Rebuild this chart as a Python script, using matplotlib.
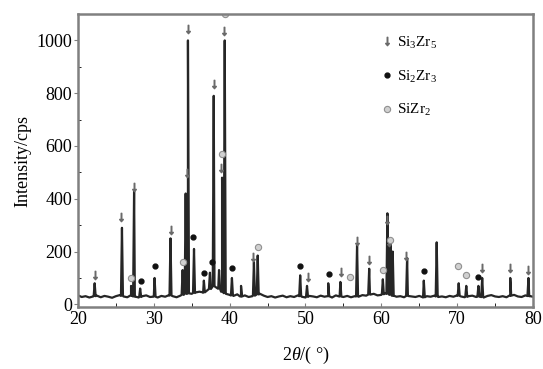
import numpy as np
import matplotlib
matplotlib.use('Agg')
import matplotlib.pyplot as plt

# baseline of the pattern, read every 0.5 deg from 20 to 80
base_start, base_step = 20.0, 0.5
baseline = [
    34, 28, 31, 26, 30, 33, 27, 32, 29, 25, 31, 35, 30, 27, 33, 29,   # 20.0 - 27.5
    26, 31, 34, 28, 30, 26, 32, 29, 35, 31, 27, 33, 38, 42, 40, 45,   # 28.0 - 35.5
    48, 44, 52, 60, 70, 62, 48, 40, 36, 32, 38, 30, 34, 28, 31, 36,   # 36.0 - 43.5
    40, 33, 28, 31, 26, 30, 33, 27, 31, 28, 34, 29, 26, 32, 30, 27,   # 44.0 - 51.5
    33, 29, 31, 26, 34, 30, 28, 32, 27, 31, 29, 35, 33, 38, 40, 34,   # 52.0 - 59.5
    36, 42, 38, 33, 29, 31, 27, 33, 30, 28, 32, 26, 31, 29, 33, 28,   # 60.0 - 67.5
    30, 27, 32, 29, 34, 30, 27, 31, 33, 28, 30, 26, 32, 35, 30, 28,   # 68.0 - 75.5
    31, 27, 33, 36, 30, 28, 34, 31, 29,                               # 76.0 - 80.0
]

# diffraction peaks: position (deg) and top intensity (cps)
peak_pos = [22.2, 25.8, 27.0, 27.4, 28.2, 30.1, 32.2, 33.8, 34.2, 34.5,
            35.3, 36.6, 37.4, 37.9, 38.6, 39.0, 39.35, 40.3, 41.5, 43.2,
            43.7, 49.3, 50.2, 53.0, 54.6, 56.8, 58.4, 60.2, 60.8, 61.2,
            61.5, 63.4, 65.6, 67.3, 70.2, 71.2, 72.8, 73.3, 77.0, 79.4]
peak_int = [80, 290, 70, 430, 60, 100, 250, 130, 420, 1000,
            210, 90, 120, 790, 130, 480, 1000, 100, 70, 160,
            185, 110, 70, 80, 85, 225, 135, 95, 345, 235,
            200, 175, 90, 235, 80, 70, 70, 100, 100, 100]

# phase markers
si3zr5_x = [22.2, 25.7, 27.4, 32.3, 34.4, 34.5, 37.9, 38.9, 39.3, 43.1,
            50.3, 54.7, 56.8, 58.4, 60.7, 61.0, 63.3, 73.3, 77.0, 79.4]
si3zr5_y = [110, 330, 446, 280, 499, 1044, 834, 518, 1036, 180,
            103, 122, 240, 168, 320, 237, 183, 137, 137, 130]
si2zr3_x = [28.3, 30.2, 35.2, 36.6, 37.7, 40.3, 49.3, 53.1, 65.6, 72.8]
si2zr3_y = [90, 145, 255, 118, 160, 137, 145, 114, 126, 103]
sizr2_x = [27.0, 33.9, 39.0, 39.4, 43.8, 55.9, 60.2, 61.1, 70.1, 71.2]
sizr2_y = [100, 160, 568, 1100, 218, 103, 130, 245, 145, 110]

plt.rcParams['font.family'] = ['Liberation Serif', 'DejaVu Serif']
plt.rcParams['mathtext.fontset'] = 'custom'
plt.rcParams['mathtext.rm'] = 'Liberation Serif'
plt.rcParams['mathtext.it'] = 'Liberation Serif:italic'

# build the trace: baseline plus narrow triangular peaks
bx = base_start + base_step * np.arange(len(baseline))
by = np.array(baseline, dtype=float)
xs = list(bx)
ys = list(by)
hw = 0.13
for p, h in zip(peak_pos, peak_int):
    b0 = np.interp(p, bx, by)
    xs += [p - hw, p, p + hw]
    ys += [b0, h, b0]
order = np.argsort(xs, kind='stable')
xs = np.array(xs)[order]
ys = np.array(ys)[order]

fig = plt.figure(figsize=(5.43, 3.69), dpi=100)
ax = fig.add_axes([0.1436, 0.168, 0.838, 0.794])
ax.plot(xs, ys, color='#262626', lw=1.6)

ax.plot(si3zr5_x, si3zr5_y, ls='none', marker=r'$\downarrow$', ms=6,
        color='#6a6a6a', label=r'Si$_3$Zr$_5$')
ax.plot(si2zr3_x, si2zr3_y, ls='none', marker='o', ms=3.5,
        color='#111111', label=r'Si$_2$Zr$_3$')
ax.plot(sizr2_x, sizr2_y, ls='none', marker='o', ms=4.5,
        mfc='#d0d0d0', mec='#909090', mew=0.8, label=r'SiZr$_2$')

ax.set_xlim(20, 80)
ax.set_ylim(-10, 1100)
ax.set_xticks(range(20, 81, 10))
ax.set_yticks(range(0, 1001, 200))
ax.set_yticks(range(100, 1100, 200), minor=True)
ax.set_xticks(range(25, 80, 10), minor=True)
ax.tick_params(axis='both', labelsize=13, color='#808080')
ax.tick_params(axis='y', which='major', direction='out', length=3, pad=1)
ax.tick_params(axis='y', which='minor', direction='in', length=2)
ax.tick_params(axis='x', which='both', direction='in', length=3, pad=3)
for s in ax.spines.values():
    s.set_color('#808080')
    s.set_linewidth(1.8)

ax.set_xlabel(r'2$\theta$/( °)', fontsize=13, labelpad=12)
ax.set_ylabel('Intensity/cps', fontsize=13, labelpad=4)

ax.legend(loc='upper left', bbox_to_anchor=(0.65, 0.95), frameon=False,
          fontsize=11, labelspacing=1.15, handletextpad=0.1,
          handlelength=1.0, borderaxespad=0)

fig.savefig('out.png', dpi=100)
